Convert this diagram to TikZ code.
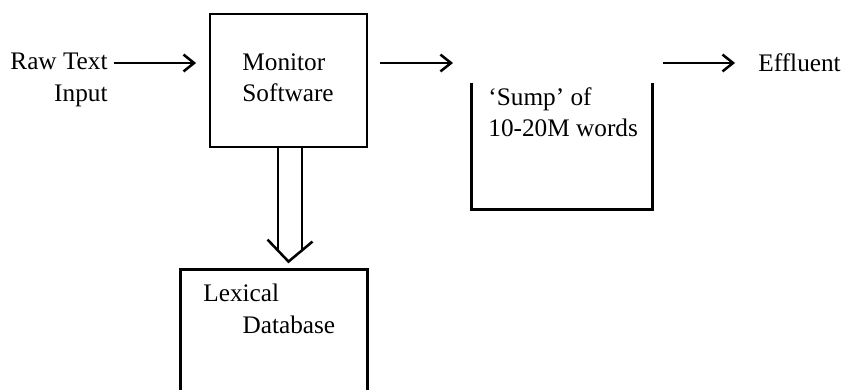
\documentclass[tikz,border=0pt]{standalone}
\usepackage{fontspec}
\setmainfont{Liberation Serif}
\usetikzlibrary{arrows.meta,calc}

\tikzset{
  lbl/.style={inner sep=0pt,font=\fontsize{12}{15}\selectfont},
  flow/.style={-{Straight Barb[length=5pt,width=8pt,line width=1.2pt]},line width=1.2pt},
  wall/.style={line width=1.2pt}
}

\begin{document}
\begin{tikzpicture}[x=0.0167cm,y=-0.0167cm]
   \useasboundingbox (0,0) rectangle (844,390);
   \coordinate (row) at (0,63);

   \node[lbl,align=right,anchor=north east] (rawtext) at (108,53) {Raw Text\\Input};
   \node[draw,wall,inner sep=0pt,minimum width=2.622cm,minimum height=2.221cm] (monitor) at (288.5,80.5) {};
   \node[lbl,align=left,anchor=north west] (montxt) at (242,53) {Monitor\\Software};

   \node[inner sep=0pt,minimum width=3.006cm,minimum height=2.104cm] (sump) at (562,146) {};
   \node[lbl,align=left,anchor=north west] (sumptxt) at (488,87) {`Sump' of\\10-20M words};
   \draw[wall] (sump.north west) -- (sump.south west) -- (sump.south east) -- (sump.north east);

   \node[lbl,anchor=north west] (effluent) at (758,53) {Effluent};

   \node[inner sep=0pt,minimum width=3.106cm,minimum height=2.02cm] (lexicon) at (274,330.5) {};
   \node[lbl,align=left,anchor=north west] (lextxt) at (203,284) {Lexical\\\hspace*{1.55em}Database};
   \draw[wall] (lexicon.south west) -- (lexicon.north west) -- (lexicon.north east) -- (lexicon.south east);

   \coordinate (sumpin) at (453,63);
   \coordinate (sumpout) at (663,63);

   \draw[flow,shorten <=3pt,shorten >=6pt] (rawtext.east |- row) -- (monitor.west |- row);
   \draw[flow,shorten <=5.7pt] (monitor.east |- row) -- (sumpin);
   \draw[flow,shorten >=10.9pt] (sumpout) -- (effluent.west |- row);

   \draw[wall] ($(monitor.south)+(-10.5,0)$) -- ($(monitor.south |- lexicon.north)+(-10.5,-20)$);
   \draw[wall] ($(monitor.south)+(13.5,0)$) -- ($(monitor.south |- lexicon.north)+(13.5,-20)$);
   \draw[wall] ($(monitor.south |- lexicon.north)+(-21,-30)$) -- ++(21,22) -- ++(24,-20);
\end{tikzpicture}
\end{document}
